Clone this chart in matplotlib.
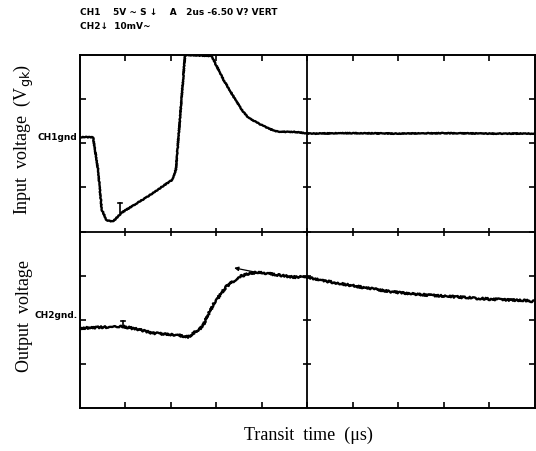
import matplotlib
matplotlib.use("Agg")
import matplotlib.pyplot as plt

# graticule divisions: 10 across, 8 high (centre = 0)
ch1_t = [0.0, 0.29, 0.40, 0.48, 0.59, 0.73, 0.92, 1.50, 2.04, 2.11, 2.31, 2.37,
         2.89, 3.00, 3.15, 3.37, 3.55, 3.70, 3.96, 4.18, 4.36, 4.69, 5.05, 6.0,
         7.0, 8.0, 9.0, 10.0]
ch1_v = [2.14, 2.14, 1.40, 0.50, 0.25, 0.23, 0.43, 0.80, 1.18, 1.41, 3.98, 4.0,
         3.98, 3.76, 3.45, 3.07, 2.77, 2.58, 2.43, 2.32, 2.26, 2.26, 2.22, 2.23,
         2.22, 2.23, 2.22, 2.22]

ch2_t = [0.0, 0.4, 0.95, 1.30, 1.60, 2.13, 2.38, 2.70, 2.78, 2.93, 3.08, 3.22,
         3.37, 3.52, 3.74, 3.96, 4.32, 4.69, 4.98, 5.34, 6.08, 6.81, 7.54, 8.28,
         9.01, 9.74, 10.0]
ch2_v = [-2.19, -2.17, -2.15, -2.22, -2.30, -2.34, -2.39, -2.15, -1.96, -1.66,
         -1.43, -1.24, -1.13, -1.02, -0.94, -0.92, -0.98, -1.03, -1.03, -1.11,
         -1.24, -1.36, -1.43, -1.48, -1.53, -1.56, -1.58]

ch1_gnd = 2.14
ch2_gnd = -1.89

header_1 = "CH1    5V ~ S \u2193    A   2us -6.50 V? VERT"
header_2 = "CH2\u2193  10mV~"

fig = plt.figure(figsize=(5.36, 4.51), dpi=100)
ax = fig.add_axes([0.149, 0.095, 0.849, 0.783])
ax.set_xlim(0, 10)
ax.set_ylim(-4, 4)

for s in ax.spines.values():
    s.set_linewidth(1.4)
ax.set_xticks(range(1, 10))
ax.set_yticks(range(-3, 4))
ax.tick_params(direction="in", length=4, width=1.2, top=True, right=True,
               labelbottom=False, labelleft=False)

# centre cross with division marks
ax.axhline(0, color="black", lw=1.3)
ax.axvline(5, color="black", lw=1.3)
ax.plot(range(1, 10), [0] * 9, ls="none", marker="|", ms=6, mew=1.2, color="black")
ax.plot([5] * 7, range(-3, 4), ls="none", marker="_", ms=6, mew=1.2, color="black")

l1, = ax.plot(ch1_t, ch1_v, color="black", lw=1.7)
l1.set_sketch_params(scale=0.4, length=3, randomness=2)
l2, = ax.plot(ch2_t, ch2_v, color="black", lw=1.7)
l2.set_sketch_params(scale=1.0, length=2, randomness=2)

# cursor markers
ax.plot([0.88, 0.88], [0.64, 0.43], color="black", lw=1.2)
ax.plot([0.83, 0.93], [0.64, 0.64], color="black", lw=1.2)
ax.plot([0.95, 0.95], [-2.02, -2.15], color="black", lw=1.2)
ax.plot([0.90, 1.00], [-2.02, -2.02], color="black", lw=1.2)

# slope line over the CH2 plateau
ax.annotate("", xy=(3.33, -0.81), xytext=(3.96, -0.94),
            arrowprops=dict(arrowstyle="-|>", lw=0.9, color="black",
                            mutation_scale=6))

lab = dict(fontsize=6.5, fontweight="bold", family="DejaVu Sans",
           ha="right", va="center", clip_on=False)
ax.text(-0.05, ch1_gnd, "CH1gnd", **lab)
ax.text(-0.05, ch2_gnd, "CH2gnd.", **lab)

fig.text(0.149, 0.972, header_1, fontsize=6.5, fontweight="bold", va="center")
fig.text(0.149, 0.942, header_2, fontsize=6.5, fontweight="bold", va="center")

serif = ["Liberation Serif", "DejaVu Serif"]
fig.text(0.045, 0.69, r"Input  voltage  (V$_{\mathrm{gk}}$)", rotation=90,
         fontsize=13, family=serif, ha="center", va="center")
fig.text(0.045, 0.30, "Output  voltage", rotation=90, fontsize=13,
         family=serif, ha="center", va="center")
fig.text(0.575, 0.035, "Transit  time  (\u03bcs)", fontsize=13, family=serif,
         ha="center", va="center")

fig.savefig("out.png", dpi=100)
plt.close(fig)
